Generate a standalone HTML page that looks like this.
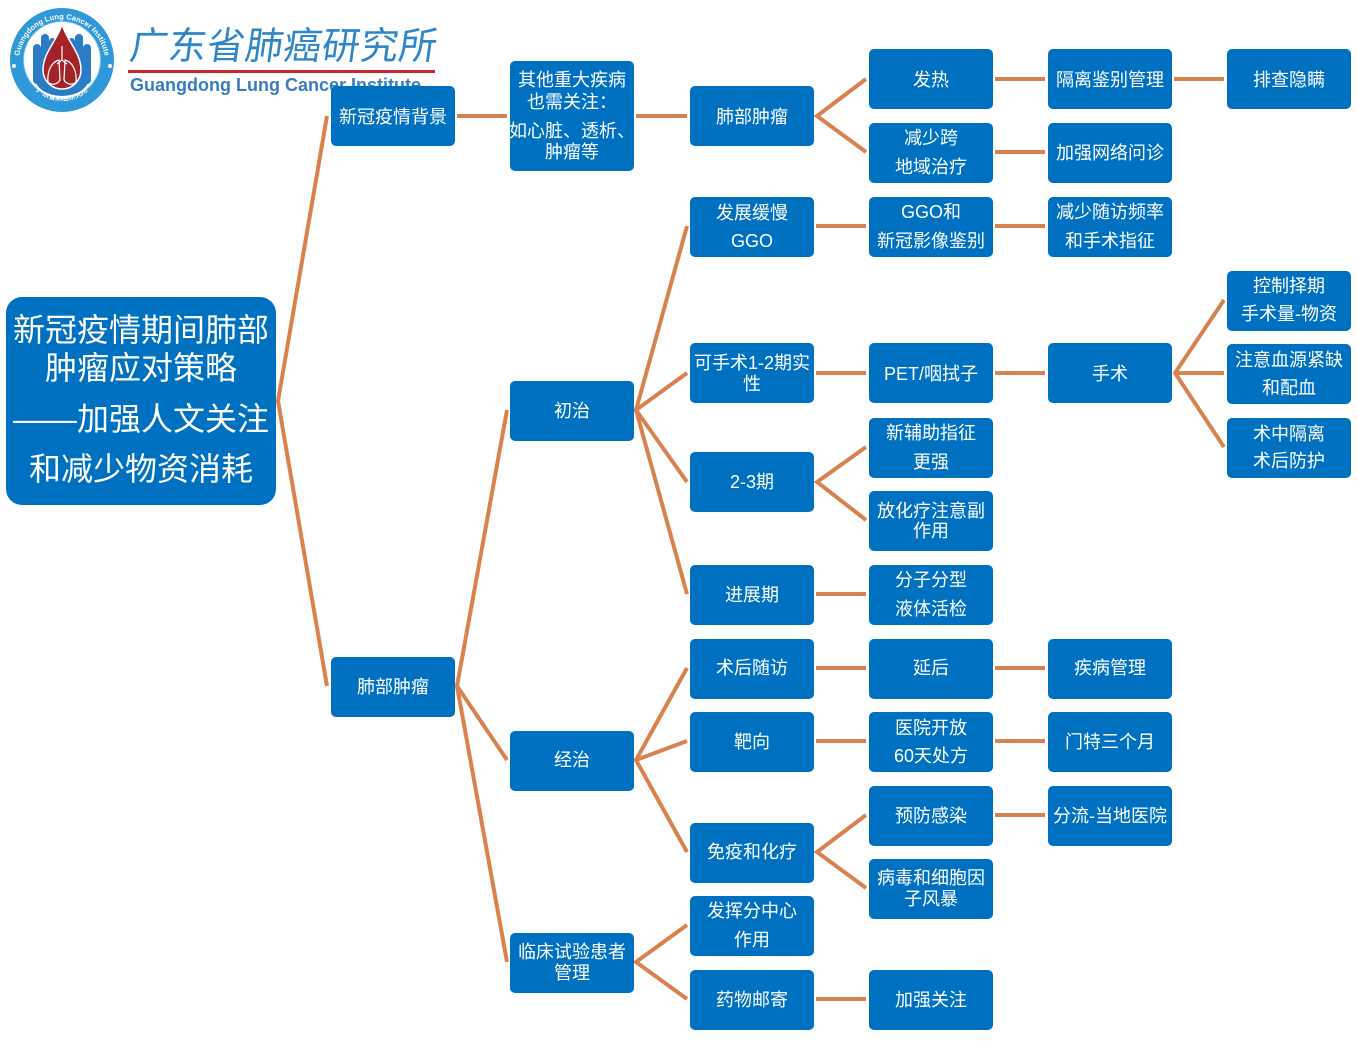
<!DOCTYPE html>
<html>
<head>
<meta charset="utf-8">
<style>
html,body{margin:0;padding:0;background:#fff;}
body{width:1357px;height:1043px;position:relative;overflow:hidden;font-family:"Liberation Sans","Noto Sans CJK SC",sans-serif;}
.b{position:absolute;background:#0070C0;border-radius:5px;width:124px;height:60px;color:#fff;}
.ln{position:absolute;left:-10px;right:-10px;text-align:center;font-size:18px;line-height:20px;white-space:nowrap;margin-top:2px;}
.root{position:absolute;left:6px;top:297px;width:270px;height:208px;background:#0070C0;border-radius:16px;color:#fff;}
.rl{position:absolute;left:-10px;right:-10px;text-align:center;font-size:32px;line-height:38px;white-space:nowrap;margin-top:3px;}
</style>
</head>
<body>

<!-- Logo -->
<svg style="position:absolute;left:0;top:0" width="125" height="120" viewBox="0 0 125 120">
  <defs>
    <path id="arcTop" d="M19,62 A43,43 0 0 1 105,62"/>
    <path id="arcBot" d="M26,78 A40,40 0 0 0 98,78"/>
  </defs>
  <circle cx="62" cy="60" r="52" fill="#2f98d8"/>
  <circle cx="62" cy="60" r="38.5" fill="#fff" stroke="#7cc0ea" stroke-width="1"/>
  <circle cx="14" cy="66" r="2" fill="#fff"/>
  <circle cx="110" cy="66" r="2" fill="#fff"/>
  <text font-family="Liberation Sans, sans-serif" font-size="7.6" fill="#fff" font-weight="bold"><textPath href="#arcTop" startOffset="50%" text-anchor="middle">Guangdong Lung Cancer Institute</textPath></text>
  <text font-family="Noto Sans CJK SC, sans-serif" font-size="7" fill="#fff" font-weight="bold"><textPath href="#arcBot" startOffset="50%" text-anchor="middle">广东省肺癌研究所</textPath></text>
  <!-- hands -->
  <ellipse cx="62" cy="78" rx="27" ry="18" fill="#2b7cc6"/>
  <rect x="33" y="44" width="8" height="40" rx="4" fill="#2b7cc6"/>
  <rect x="41" y="34" width="8" height="45" rx="4" fill="#2b7cc6"/>
  <rect x="49" y="38" width="7" height="35" rx="3.5" fill="#2b7cc6"/>
  <rect x="83" y="44" width="8" height="40" rx="4" fill="#2b7cc6"/>
  <rect x="75" y="34" width="8" height="45" rx="4" fill="#2b7cc6"/>
  <rect x="68" y="38" width="7" height="35" rx="3.5" fill="#2b7cc6"/>
  <!-- drop -->
  <path d="M62,24 C66,40 81,52 81,70 A19,19 0 1 1 43,70 C43,52 58,40 62,24 Z" fill="#a3232b" stroke="#fff" stroke-width="1.5"/>
  <path d="M62,46 L62,60 M62,60 L57,64 M62,60 L67,64" stroke="#fff" stroke-width="1.2" fill="none"/>
  <path d="M59,60 C51,62 47,72 48,82 C52,86 58,84 60,80 Z" stroke="#fff" stroke-width="1.2" fill="none"/>
  <path d="M65,60 C73,62 77,72 76,82 C72,86 66,84 64,80 Z" stroke="#fff" stroke-width="1.2" fill="none"/>
</svg>

<div style="position:absolute;left:128px;top:24px;font-family:'Noto Sans CJK SC',sans-serif;font-size:38px;line-height:38px;color:#2f86c8;letter-spacing:0.4px;white-space:nowrap;transform:skewX(-8deg);transform-origin:left bottom;">广东省肺癌研究所</div>
<div style="position:absolute;left:128px;top:70px;width:307px;height:3px;background:#c8282e;"></div>
<div style="position:absolute;left:130px;top:76px;font-family:'Liberation Sans',sans-serif;font-weight:bold;font-size:18px;line-height:18px;color:#3a7dbf;white-space:nowrap;">Guangdong Lung Cancer Institute</div>

<!-- Connectors -->
<svg style="position:absolute;left:0;top:0" width="1357" height="1043">
<g stroke="#D8834F" stroke-width="4" fill="none" stroke-linejoin="miter" stroke-linecap="butt">
  <polyline points="327,116 278,401 327,686"/>
  <line x1="457" y1="116" x2="507" y2="116"/>
  <line x1="636" y1="116" x2="687" y2="116"/>
  <polyline points="866,79 817,116 866,152"/>
  <line x1="995" y1="79" x2="1045" y2="79"/>
  <line x1="1174" y1="79" x2="1224" y2="79"/>
  <line x1="995" y1="152" x2="1045" y2="152"/>
  <line x1="816" y1="226" x2="866" y2="226"/>
  <line x1="995" y1="226" x2="1045" y2="226"/>
  <polyline points="687,226 636,410 687,594"/>
  <polyline points="687,373 636,410 687,482"/>
  <line x1="816" y1="373" x2="866" y2="373"/>
  <line x1="995" y1="373" x2="1045" y2="373"/>
  <polyline points="1224,300 1175,373 1224,447"/>
  <line x1="1175" y1="373" x2="1224" y2="373"/>
  <polyline points="866,447 817,482 866,520"/>
  <line x1="816" y1="594" x2="866" y2="594"/>
  <polyline points="507,410 457,686 507,962"/>
  <line x1="457" y1="686" x2="507" y2="760"/>
  <polyline points="687,668 636,760 687,852"/>
  <line x1="636" y1="760" x2="687" y2="741"/>
  <line x1="816" y1="668" x2="866" y2="668"/>
  <line x1="995" y1="668" x2="1045" y2="668"/>
  <line x1="816" y1="741" x2="866" y2="741"/>
  <line x1="995" y1="741" x2="1045" y2="741"/>
  <polyline points="866,815 817,852 866,888"/>
  <line x1="995" y1="815" x2="1045" y2="815"/>
  <polyline points="687,925 636,962 687,999"/>
  <line x1="816" y1="999" x2="866" y2="999"/>
</g>
</svg>

<!-- Root -->
<div class="root">
  <div class="rl" style="top:11px">新冠疫情期间肺部</div>
  <div class="rl" style="top:49px">肿瘤应对策略</div>
  <div class="rl" style="top:100px">——加强人文关注</div>
  <div class="rl" style="top:150px">和减少物资消耗</div>
</div>

<!-- Column 1 -->
<div class="b" style="left:331px;top:86px"><div class="ln" style="top:19px">新冠疫情背景</div></div>
<div class="b" style="left:331px;top:657px"><div class="ln" style="top:18px">肺部肿瘤</div></div>

<!-- Column 2 -->
<div class="b" style="left:510px;top:61px;height:110px">
  <div class="ln" style="top:7px">其他重大疾病</div>
  <div class="ln" style="top:29px">也需关注：</div>
  <div class="ln" style="top:58px">如心脏、透析、</div>
  <div class="ln" style="top:79px">肿瘤等</div>
</div>
<div class="b" style="left:510px;top:381px"><div class="ln" style="top:18px">初治</div></div>
<div class="b" style="left:510px;top:731px"><div class="ln" style="top:17px">经治</div></div>
<div class="b" style="left:510px;top:933px"><div class="ln" style="top:7px">临床试验患者</div><div class="ln" style="top:28px">管理</div></div>

<!-- Column 3 -->
<div class="b" style="left:690px;top:86px"><div class="ln" style="top:19px">肺部肿瘤</div></div>
<div class="b" style="left:690px;top:197px"><div class="ln" style="top:4px">发展缓慢</div><div class="ln" style="top:32px">GGO</div></div>
<div class="b" style="left:690px;top:343px"><div class="ln" style="top:8px">可手术1-2期实</div><div class="ln" style="top:29px">性</div></div>
<div class="b" style="left:690px;top:452px"><div class="ln" style="top:18px">2-3期</div></div>
<div class="b" style="left:690px;top:565px"><div class="ln" style="top:18px">进展期</div></div>
<div class="b" style="left:690px;top:639px"><div class="ln" style="top:17px">术后随访</div></div>
<div class="b" style="left:690px;top:712px"><div class="ln" style="top:18px">靶向</div></div>
<div class="b" style="left:690px;top:823px"><div class="ln" style="top:17px">免疫和化疗</div></div>
<div class="b" style="left:690px;top:896px"><div class="ln" style="top:3px">发挥分中心</div><div class="ln" style="top:32px">作用</div></div>
<div class="b" style="left:690px;top:970px"><div class="ln" style="top:18px">药物邮寄</div></div>

<!-- Column 4 -->
<div class="b" style="left:869px;top:49px"><div class="ln" style="top:19px">发热</div></div>
<div class="b" style="left:869px;top:123px"><div class="ln" style="top:3px">减少跨</div><div class="ln" style="top:32px">地域治疗</div></div>
<div class="b" style="left:869px;top:197px"><div class="ln" style="top:3px">GGO和</div><div class="ln" style="top:32px">新冠影像鉴别</div></div>
<div class="b" style="left:869px;top:343px"><div class="ln" style="top:19px">PET/咽拭子</div></div>
<div class="b" style="left:869px;top:418px"><div class="ln" style="top:3px">新辅助指征</div><div class="ln" style="top:32px">更强</div></div>
<div class="b" style="left:869px;top:491px"><div class="ln" style="top:8px">放化疗注意副</div><div class="ln" style="top:28px">作用</div></div>
<div class="b" style="left:869px;top:565px"><div class="ln" style="top:3px">分子分型</div><div class="ln" style="top:32px">液体活检</div></div>
<div class="b" style="left:869px;top:639px"><div class="ln" style="top:17px">延后</div></div>
<div class="b" style="left:869px;top:712px"><div class="ln" style="top:4px">医院开放</div><div class="ln" style="top:32px">60天处方</div></div>
<div class="b" style="left:869px;top:786px"><div class="ln" style="top:18px">预防感染</div></div>
<div class="b" style="left:869px;top:859px"><div class="ln" style="top:7px">病毒和细胞因</div><div class="ln" style="top:28px">子风暴</div></div>
<div class="b" style="left:869px;top:970px"><div class="ln" style="top:18px">加强关注</div></div>

<!-- Column 5 -->
<div class="b" style="left:1048px;top:49px"><div class="ln" style="top:19px">隔离鉴别管理</div></div>
<div class="b" style="left:1048px;top:123px"><div class="ln" style="top:18px">加强网络问诊</div></div>
<div class="b" style="left:1048px;top:197px"><div class="ln" style="top:3px">减少随访频率</div><div class="ln" style="top:32px">和手术指征</div></div>
<div class="b" style="left:1048px;top:343px"><div class="ln" style="top:19px">手术</div></div>
<div class="b" style="left:1048px;top:639px"><div class="ln" style="top:17px">疾病管理</div></div>
<div class="b" style="left:1048px;top:712px"><div class="ln" style="top:18px">门特三个月</div></div>
<div class="b" style="left:1048px;top:786px"><div class="ln" style="top:18px">分流-当地医院</div></div>

<!-- Column 6 -->
<div class="b" style="left:1227px;top:49px"><div class="ln" style="top:19px">排查隐瞒</div></div>
<div class="b" style="left:1227px;top:271px"><div class="ln" style="top:3px">控制择期</div><div class="ln" style="top:31px">手术量-物资</div></div>
<div class="b" style="left:1227px;top:344px"><div class="ln" style="top:4px">注意血源紧缺</div><div class="ln" style="top:32px">和配血</div></div>
<div class="b" style="left:1227px;top:418px"><div class="ln" style="top:4px">术中隔离</div><div class="ln" style="top:31px">术后防护</div></div>

</body>
</html>
